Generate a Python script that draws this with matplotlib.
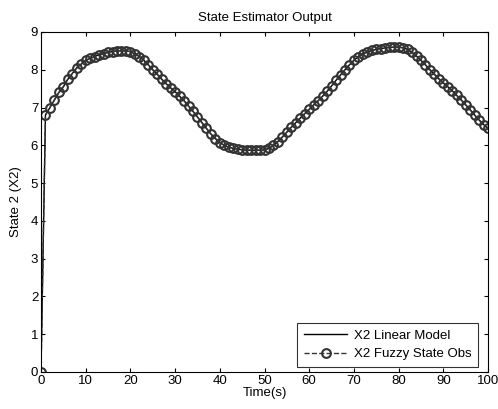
import matplotlib
matplotlib.use("Agg")
import matplotlib.pyplot as plt
import numpy as np

plt.rcParams['font.family'] = ['Liberation Sans', 'DejaVu Sans']

time_s = list(range(0, 101))
x2_linear = [
    0.0, 6.8, 7.0, 7.2, 7.4, 7.55, 7.75, 7.9, 8.05, 8.15,
    8.25, 8.3, 8.35, 8.4, 8.43, 8.46, 8.48, 8.5, 8.5, 8.5,
    8.48, 8.42, 8.35, 8.25, 8.13, 8.0, 7.88, 7.75, 7.63, 7.52,
    7.42, 7.3, 7.18, 7.04, 6.9, 6.75, 6.6, 6.45, 6.3, 6.18,
    6.07, 6.0, 5.95, 5.92, 5.9, 5.88, 5.87, 5.87, 5.87, 5.87,
    5.88, 5.92, 6.0, 6.1, 6.22, 6.35, 6.48, 6.6, 6.72, 6.84,
    6.95, 7.07, 7.18, 7.3, 7.43, 7.57, 7.72, 7.86, 8.0, 8.13,
    8.25, 8.35, 8.42, 8.47, 8.51, 8.54, 8.56, 8.58, 8.59, 8.6,
    8.6, 8.58, 8.54, 8.46, 8.36, 8.25, 8.13, 8.0, 7.88, 7.76,
    7.65, 7.55, 7.44, 7.32, 7.2, 7.07, 6.94, 6.8, 6.67, 6.55,
    6.45,
]
x2_fuzzy = list(x2_linear)

FS = 9.5

fig = plt.figure(figsize=(4.98, 4.09), dpi=100)
ax = fig.add_axes([0.0823, 0.0905, 0.8977, 0.8313])

ax.plot(time_s, x2_linear, '-', color='black', lw=1.0, label='X2 Linear Model')
ax.plot(time_s, x2_fuzzy, '--', color='#333333', lw=1.0, marker='o',
        markersize=6.3, markerfacecolor='none', markeredgecolor='#333333',
        markeredgewidth=1.5, label='X2 Fuzzy State Obs')

ax.set_xlim(0, 100)
ax.set_ylim(0, 9)
ax.set_xticks(range(0, 101, 10))
ax.set_yticks(range(0, 10))
ax.tick_params(direction='in', top=True, right=True, labelsize=FS, length=3, pad=2)
for s in ax.spines.values():
    s.set_linewidth(0.8)
ax.set_title('State Estimator Output', fontsize=FS, pad=8)
ax.set_xlabel('Time(s)', fontsize=FS, labelpad=0)
ax.set_ylabel('State 2 (X2)', fontsize=FS, labelpad=6)

leg = ax.legend(loc='lower right', bbox_to_anchor=(0.978, 0.015), fontsize=FS,
                frameon=True, fancybox=False, edgecolor='black', borderaxespad=0,
                handlelength=3.3, labelspacing=0.45, borderpad=0.5,
                handletextpad=0.5)
leg.get_frame().set_linewidth(0.8)

fig.savefig('out.png', dpi=100)
